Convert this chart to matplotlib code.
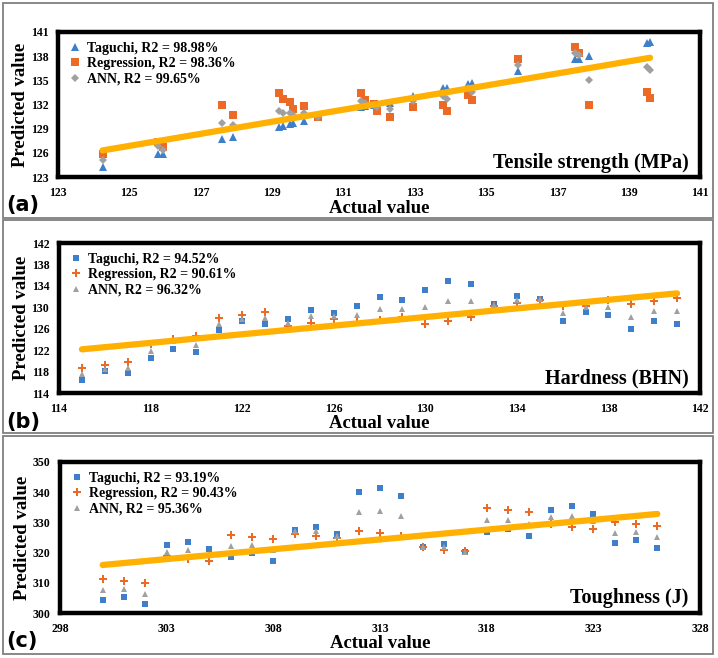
import matplotlib
matplotlib.use('Agg')
import matplotlib.pyplot as plt
from matplotlib.patches import Rectangle

# (a) tensile strength
ts_actual = [124.25, 125.8, 125.95, 127.6, 127.9, 129.2, 129.3, 129.5, 129.6, 129.9, 130.3, 131.5, 131.6, 131.85,
             131.95, 132.3, 132.95, 133.8, 133.9, 134.5, 134.6, 135.9, 137.5, 137.6, 137.9, 139.5, 139.6]
ts_taguchi = [124.3, 125.9, 125.9, 127.7, 128.0, 129.25, 129.3, 129.6, 129.7, 130.0, 130.4, 131.7, 131.8, 131.9,
              132.0, 132.2, 133.1, 134.0, 134.0, 134.6, 134.7, 136.1, 137.6, 137.6, 138.0, 139.6, 139.7]
ts_regression = [125.9, 127.4, 126.7, 131.9, 130.7, 133.4, 132.65, 132.3, 131.5, 131.8, 130.4, 133.4, 132.6, 132.1,
                 131.2, 130.4, 131.65, 131.9, 131.2, 133.2, 132.5, 137.6, 139.2, 138.4, 132.0, 133.55, 132.8]
ts_ann = [125.1, 126.8, 126.3, 129.75, 129.4, 131.2, 131.0, 130.9, 130.7, 130.9, 130.5, 132.4, 132.2, 131.9,
          131.7, 131.4, 132.4, 133.0, 132.65, 134.0, 133.6, 136.9, 138.4, 138.1, 135.0, 136.6, 136.3]
ts_trend_x = [124.25, 139.6]
ts_trend_y = [126.3, 137.8]
ts_labels = ['Taguchi, R2 = 98.98%', 'Regression, R2 = 98.36%', 'ANN, R2 = 99.65%']

# (b) hardness
hd_actual = list(range(115, 142))
hd_taguchi = [116.4, 118.2, 117.7, 120.5, 122.2, 121.65, 125.85, 127.45, 126.95, 127.85, 129.5, 128.9, 130.2, 131.85,
              131.3, 133.2, 134.9, 134.3, 130.55, 132.2, 131.6, 127.5, 129.2, 128.55, 125.9, 127.5, 126.95]
hd_regression = [118.7, 119.2, 119.8, 123.2, 124.0, 124.55, 128.05, 128.6, 129.1, 126.6, 127.1, 127.75, 127.2, 127.6,
                 128.2, 126.9, 127.5, 128.1, 130.3, 130.75, 131.4, 130.2, 130.3, 131.3, 130.6, 131.2, 131.7]
hd_ann = [117.5, 118.4, 118.7, 121.9, 123.65, 122.95, 126.85, 127.9, 127.95, 127.1, 128.3, 128.3, 128.5, 129.65,
          129.65, 130.05, 131.1, 131.2, 130.4, 131.35, 131.5, 128.9, 130.0, 130.0, 128.2, 129.4, 129.4]
hd_trend_x = [115, 141]
hd_trend_y = [122.15, 132.6]
hd_labels = ['Taguchi, R2 = 94.52%', 'Regression, R2 = 90.61%', 'ANN, R2 = 96.32%']

# (c) toughness
tg_actual = list(range(300, 327))
tg_taguchi = [304.4, 305.4, 302.9, 322.5, 323.6, 321.1, 318.6, 319.8, 317.3, 327.5, 328.6, 326.2, 340.2, 341.3,
              338.7, 321.75, 322.7, 320.3, 326.7, 327.8, 325.4, 334.1, 335.3, 332.7, 323.1, 324.2, 321.6]
tg_regression = [311.3, 310.6, 309.9, 318.8, 317.9, 317.2, 325.8, 325.1, 324.4, 326.2, 325.5, 324.8, 327.2, 326.6,
                 325.6, 321.8, 320.8, 320.4, 334.9, 334.1, 333.3, 329.4, 328.6, 327.8, 330.2, 329.5, 328.7]
tg_ann = [307.7, 308.0, 306.2, 320.3, 320.7, 319.5, 322.2, 322.4, 320.9, 327.1, 327.1, 325.5, 333.5, 333.9,
          332.1, 321.7, 322.0, 320.3, 330.7, 330.9, 329.6, 331.8, 332.0, 330.5, 326.6, 326.9, 325.2]
tg_trend_x = [300, 326]
tg_trend_y = [315.9, 332.8]
tg_labels = ['Taguchi, R2 = 93.19%', 'Regression, R2 = 90.43%', 'ANN, R2 = 95.36%']

BLUE = '#3E7FCB'
ORANGE = '#EA6A26'
GREY = '#A0A0A0'
GOLD = '#FFB000'
SERIF = 'Liberation Serif'

W, H = 718, 658


def fx(px):
    return px / W


def fy(py):
    return 1 - py / H


def draw_panel(fig, box, x, series, markers, labels, trend_x, trend_y, xlim, xticks, ylim, yticks, name, tag, tag_y):
    left, top, right, bottom = box
    ax = fig.add_axes([fx(left), fy(bottom), fx(right) - fx(left), fy(top) - fy(bottom)])
    colors = [BLUE, ORANGE, GREY]
    for vals, (mk, ms), col, lab in zip(series, markers, colors, labels):
        ax.plot(x, vals, linestyle='none', marker=mk, markersize=ms, color=col,
                markeredgewidth=0, label=lab, zorder=3)
    ax.plot(trend_x, trend_y, color=GOLD, lw=4.5, solid_capstyle='round', zorder=4)
    ax.set_xlim(xlim)
    ax.set_ylim(ylim)
    ax.set_xticks(xticks)
    ax.set_yticks(yticks)
    ax.tick_params(length=0, pad=7)
    for lab in ax.get_xticklabels() + ax.get_yticklabels():
        lab.set_fontfamily(SERIF)
        lab.set_fontweight('bold')
        lab.set_fontsize(8.5)
    for sp in ax.spines.values():
        sp.set_linewidth(3.2)
        sp.set_color('black')
    ax.set_xlabel('Actual value', fontfamily=SERIF, fontweight='bold', fontsize=13.5, va='center')
    ax.xaxis.set_label_coords(0.5, -(31 / (bottom - top)))
    ax.set_ylabel('Predicted value', fontfamily=SERIF, fontweight='bold', fontsize=13.5, va='center')
    ax.yaxis.set_label_coords(-(37 / (right - left)), 0.5)
    ax.text(0.982, 0.1, name, transform=ax.transAxes, ha='right', va='center',
            fontfamily=SERIF, fontweight='bold', fontsize=14.5)
    ax.legend(loc='upper left', bbox_to_anchor=(-0.005, 1.0), frameon=False,
              prop={'family': SERIF, 'weight': 'bold', 'size': 10},
              handletextpad=0.1, labelspacing=0.18, handlelength=1.5, borderaxespad=0.3)
    fig.text(fx(6), fy(tag_y), tag, fontfamily='DejaVu Sans', fontweight='bold',
             fontsize=15, va='center', ha='left')
    return ax


fig = plt.figure(figsize=(W / 100, H / 100), dpi=100)

for (t, b) in [(3, 218), (220, 433), (436, 654)]:
    fig.patches.append(Rectangle((fx(3), fy(b)), fx(713) - fx(3), fy(t) - fy(b), transform=fig.transFigure,
                                 fill=False, edgecolor='#7F7F7F', lw=1.3))

draw_panel(fig, (58, 32, 700, 177), ts_actual, [ts_taguchi, ts_regression, ts_ann],
           [('^', 5.5), ('s', 5.5), ('D', 3.6)], ts_labels, ts_trend_x, ts_trend_y,
           (123, 141), range(123, 142, 2), (123, 141), range(123, 142, 3),
           'Tensile strength (MPa)', '(a)', 205)

draw_panel(fig, (59, 243, 700, 393), hd_actual, [hd_taguchi, hd_regression, hd_ann],
           [('s', 4.6), ('P', 5.2), ('^', 4.6)], hd_labels, hd_trend_x, hd_trend_y,
           (114, 142), range(114, 143, 4), (114, 142), range(114, 143, 4),
           'Hardness (BHN)', '(b)', 422)

draw_panel(fig, (60, 462, 700, 613), tg_actual, [tg_taguchi, tg_regression, tg_ann],
           [('s', 4.6), ('P', 5.2), ('^', 4.6)], tg_labels, tg_trend_x, tg_trend_y,
           (298, 328), range(298, 329, 5), (300, 350), range(300, 351, 10),
           'Toughness (J)', '(c)', 641)

fig.savefig('out.png', dpi=100)
